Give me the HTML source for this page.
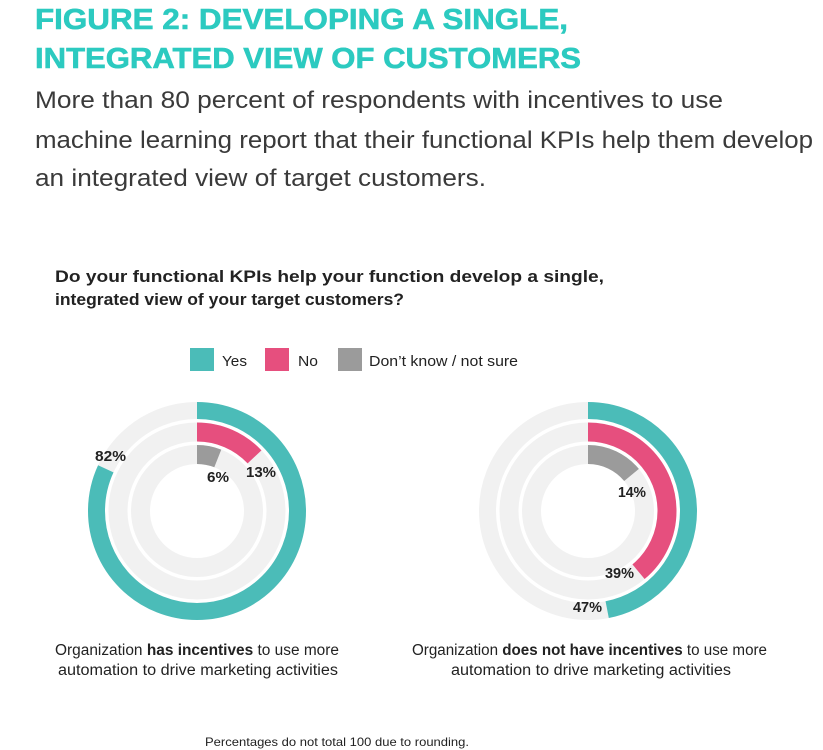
<!DOCTYPE html>
<html><head><meta charset="utf-8"><style>
html,body{margin:0;padding:0;background:#fff;}
svg{display:block;}
.t{font-family:"Liberation Sans Narrow","Liberation Sans",sans-serif;font-weight:bold;fill:#2ccac0;font-size:29px;stroke:#2ccac0;stroke-width:0.6px;}
.s{font-family:"Liberation Sans",sans-serif;fill:#3a3a3a;font-size:24px;}
.n{font-family:"Liberation Sans Narrow","Liberation Sans",sans-serif;fill:#222;}
.b{font-weight:bold;}
</style></head><body>
<svg width="823" height="750" viewBox="0 0 823 750" xmlns="http://www.w3.org/2000/svg">
<text class="t" x="35" y="29" textLength="533" lengthAdjust="spacingAndGlyphs">FIGURE 2: DEVELOPING A SINGLE,</text>
<text class="t" x="35" y="68" textLength="546" lengthAdjust="spacingAndGlyphs">INTEGRATED VIEW OF CUSTOMERS</text>
<text class="s" x="35" y="108" textLength="688" lengthAdjust="spacingAndGlyphs">More than 80 percent of respondents with incentives to use</text>
<text class="s" x="35" y="148" textLength="778" lengthAdjust="spacingAndGlyphs">machine learning report that their functional KPIs help them develop</text>
<text class="s" x="35" y="186" textLength="451" lengthAdjust="spacingAndGlyphs">an integrated view of target customers.</text>

<text class="n b" x="55" y="282" font-size="17" textLength="549" lengthAdjust="spacingAndGlyphs">Do your functional KPIs help your function develop a single,</text>
<text class="n b" x="55" y="305" font-size="17" textLength="349" lengthAdjust="spacingAndGlyphs">integrated view of your target customers?</text>

<rect x="190" y="348" width="24" height="23" fill="#4bbcb8"/>
<text class="n" x="222" y="366" font-size="15" textLength="25" lengthAdjust="spacingAndGlyphs">Yes</text>
<rect x="265" y="348" width="24" height="23" fill="#e64f7e"/>
<text class="n" x="298" y="366" font-size="15" textLength="20" lengthAdjust="spacingAndGlyphs">No</text>
<rect x="338" y="348" width="24" height="23" fill="#9b9b9b"/>
<text class="n" x="369" y="366" font-size="15" textLength="149" lengthAdjust="spacingAndGlyphs">Don’t know / not sure</text>

<g fill="none">
<g transform="translate(197,511) rotate(-90)">
<circle r="100.5" stroke="#f1f1f1" stroke-width="17"/>
<circle r="79" stroke="#f1f1f1" stroke-width="19"/>
<circle r="56.5" stroke="#f1f1f1" stroke-width="19"/>
<circle r="100.5" stroke="#4bbcb8" stroke-width="17" pathLength="100" stroke-dasharray="82 100"/>
<circle r="79" stroke="#e64f7e" stroke-width="19" pathLength="100" stroke-dasharray="13 100"/>
<circle r="56.5" stroke="#9b9b9b" stroke-width="19" pathLength="100" stroke-dasharray="6 100"/>
</g>
<g transform="translate(588,511) rotate(-90)">
<circle r="100.5" stroke="#f1f1f1" stroke-width="17"/>
<circle r="79" stroke="#f1f1f1" stroke-width="19"/>
<circle r="56.5" stroke="#f1f1f1" stroke-width="19"/>
<circle r="100.5" stroke="#4bbcb8" stroke-width="17" pathLength="100" stroke-dasharray="47 100"/>
<circle r="79" stroke="#e64f7e" stroke-width="19" pathLength="100" stroke-dasharray="39 100"/>
<circle r="56.5" stroke="#9b9b9b" stroke-width="19" pathLength="100" stroke-dasharray="14 100"/>
</g>
</g>

<g class="n b" font-size="15" fill="#333">
<text x="95" y="461" textLength="31" lengthAdjust="spacingAndGlyphs">82%</text>
<text x="246" y="477" textLength="30" lengthAdjust="spacingAndGlyphs">13%</text>
<text x="207" y="482" textLength="22" lengthAdjust="spacingAndGlyphs">6%</text>
<text x="618" y="497" textLength="28" lengthAdjust="spacingAndGlyphs">14%</text>
<text x="605" y="578" textLength="29" lengthAdjust="spacingAndGlyphs">39%</text>
<text x="573" y="612" textLength="29" lengthAdjust="spacingAndGlyphs">47%</text>
</g>

<text class="n" x="55" y="655" font-size="15.5" textLength="284" lengthAdjust="spacingAndGlyphs">Organization <tspan font-weight="bold">has incentives</tspan> to use more</text>
<text class="n" x="58" y="675" font-size="15.5" textLength="280" lengthAdjust="spacingAndGlyphs">automation to drive marketing activities</text>
<text class="n" x="412" y="655" font-size="15.5" textLength="355" lengthAdjust="spacingAndGlyphs">Organization <tspan font-weight="bold">does not have incentives</tspan> to use more</text>
<text class="n" x="451" y="675" font-size="15.5" textLength="280" lengthAdjust="spacingAndGlyphs">automation to drive marketing activities</text>

<text class="n" x="205" y="746" font-size="12" textLength="264" lengthAdjust="spacingAndGlyphs">Percentages do not total 100 due to rounding.</text>
</svg>
</body></html>
